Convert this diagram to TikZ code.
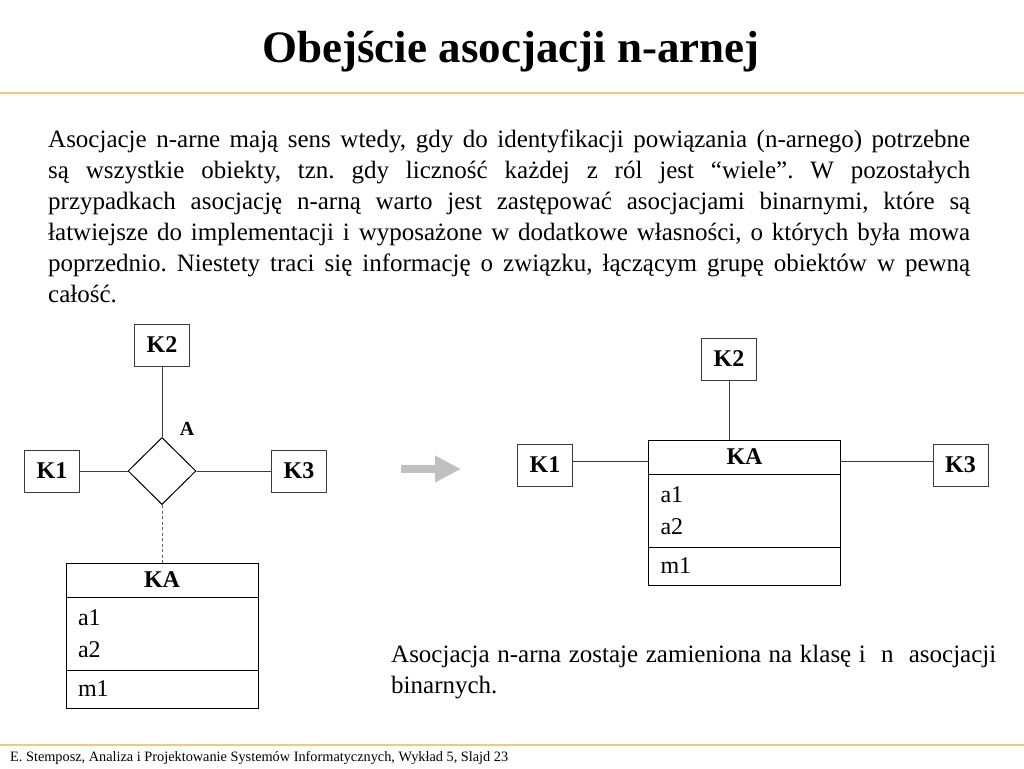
\documentclass[tikz,border=0pt]{standalone}
\usepackage{fontspec}
\setmainfont{Liberation Serif}
\usetikzlibrary{arrows.meta,positioning,shapes.geometric}
\definecolor{ruleorange}{RGB}{242,198,134}
\definecolor{arrowgray}{RGB}{192,192,192}
\definecolor{linegray}{RGB}{60,60,60}
\newcommand{\fsz}[1]{\fontsize{#1}{#1}\selectfont}
\frenchspacing

\begin{document}
\begin{tikzpicture}[x=1pt, y=-1pt,
  klasa/.style={draw=linegray, line width=1pt, minimum width=55pt, minimum height=42pt, inner sep=0pt, font=\fsz{24}\bfseries},
  asoc/.style={diamond, draw=black, line width=1pt, minimum width=68pt, minimum height=67pt, inner sep=0pt},
  kahead/.style={draw=black, line width=1pt, outer sep=0pt, minimum width=192pt, minimum height=34pt, inner sep=0pt, font=\fsz{24}\bfseries},
  kapart/.style={draw=black, line width=1pt, outer sep=0pt, minimum width=192pt, text width=168pt, inner xsep=12pt, inner ysep=0pt, align=left, font=\fontsize{24}{32}\selectfont},
  link/.style={draw=linegray, line width=1pt},
  dep/.style={draw=linegray!80, line width=1pt, dash pattern=on 3pt off 2.5pt}]

\useasboundingbox (0,0) rectangle (1024,768);
\fill[white] (0,0) rectangle (1024,768);

% naglowek slajdu
\node[font=\fsz{45}\bfseries, anchor=base, inner sep=0pt] (tytul) at (511,63) {Obejście asocjacji n-arnej};
\draw[ruleorange, line width=1.5pt] (0,93) -- (1024,93);

% opis
\node[anchor=north west, inner sep=0pt, text width=922pt, align=justify, font=\fontsize{25}{31}\selectfont] (opis) at (48,130) {Asocjacje n-arne mają sens wtedy, gdy do identyfikacji powiązania (n-arnego) potrzebne\linebreak
są  wszystkie obiekty, tzn. gdy liczność każdej z  ról  jest “wiele”. W pozostałych\linebreak
przypadkach asocjację n-arną warto jest zastępować asocjacjami binarnymi, które są\linebreak
łatwiejsze do implementacji i wyposażone w dodatkowe własności, o których była mowa\linebreak
poprzednio. Niestety  traci się informację o związku, łączącym  grupę  obiektów w pewną\linebreak
całość.};

% asocjacja n-arna
\node[klasa] (K2l) at (162,345) {K2};
\node[asoc] (Al) at (162,471) {};
\node[klasa] (K1l) at (52,471) {K1};
\node[klasa] (K3l) at (299,471) {K3};
\node[font=\fsz{20}\bfseries, inner sep=0pt] (Alab) at (187,429) {A};
\node[kahead] (KAlh) at (162,580) {KA};
\node[kapart, minimum height=73pt, below=0pt of KAlh] (KAla) {a1\\a2};
\node[kapart, minimum height=38pt, below=0pt of KAla] (KAlm) {m1};
\draw[link] (K1l) -- (Al);
\draw[link] (Al) -- (K3l);
\draw[link] (K2l) -- (Al);
\draw[dep] (Al) -- (KAlh);

% strzalka
\coordinate (arrS) at (401,469);
\coordinate (arrE) at (461,469);
\draw[arrowgray, line width=8.5pt, -{Triangle[length=26pt,width=25pt]}] (arrS) -- (arrE);

% klasa KA i asocjacje binarne
\node[klasa] (K2r) at (729,359) {K2};
\node[kahead] (KArh) at (744.5,457) {KA};
\node[kapart, minimum height=73pt, below=0pt of KArh] (KAra) {a1\\a2};
\node[kapart, minimum height=38pt, below=0pt of KAra] (KArm) {m1};
\node[klasa] (K1r) at (545,465) {K1};
\node[klasa] (K3r) at (960.5,465) {K3};
\draw[link] ([yshift=4pt]K1r.east) -- ([yshift=4pt]K1r.east -| KArh.west);
\draw[link] ([yshift=4pt]K3r.west) -- ([yshift=4pt]K3r.west -| KArh.east);
\draw[link] (K2r) -- (K2r |- KArh.north);

\node[anchor=north west, inner sep=0pt, text width=605pt, align=justify, font=\fontsize{25}{31}\selectfont] (uwaga) at (391,645) {Asocjacja n-arna zostaje zamieniona na klasę i\ \ n\ \ asocjacji\linebreak binarnych.};

% stopka
\draw[ruleorange, line width=1.5pt] (0,745) -- (1024,745);
\node[anchor=base west, inner sep=0pt, font=\fsz{14.3}] (stopka) at (10,761) {E. Stemposz, Analiza i Projektowanie Systemów Informatycznych, Wykład 5, Slajd 23};
\end{tikzpicture}
\end{document}
